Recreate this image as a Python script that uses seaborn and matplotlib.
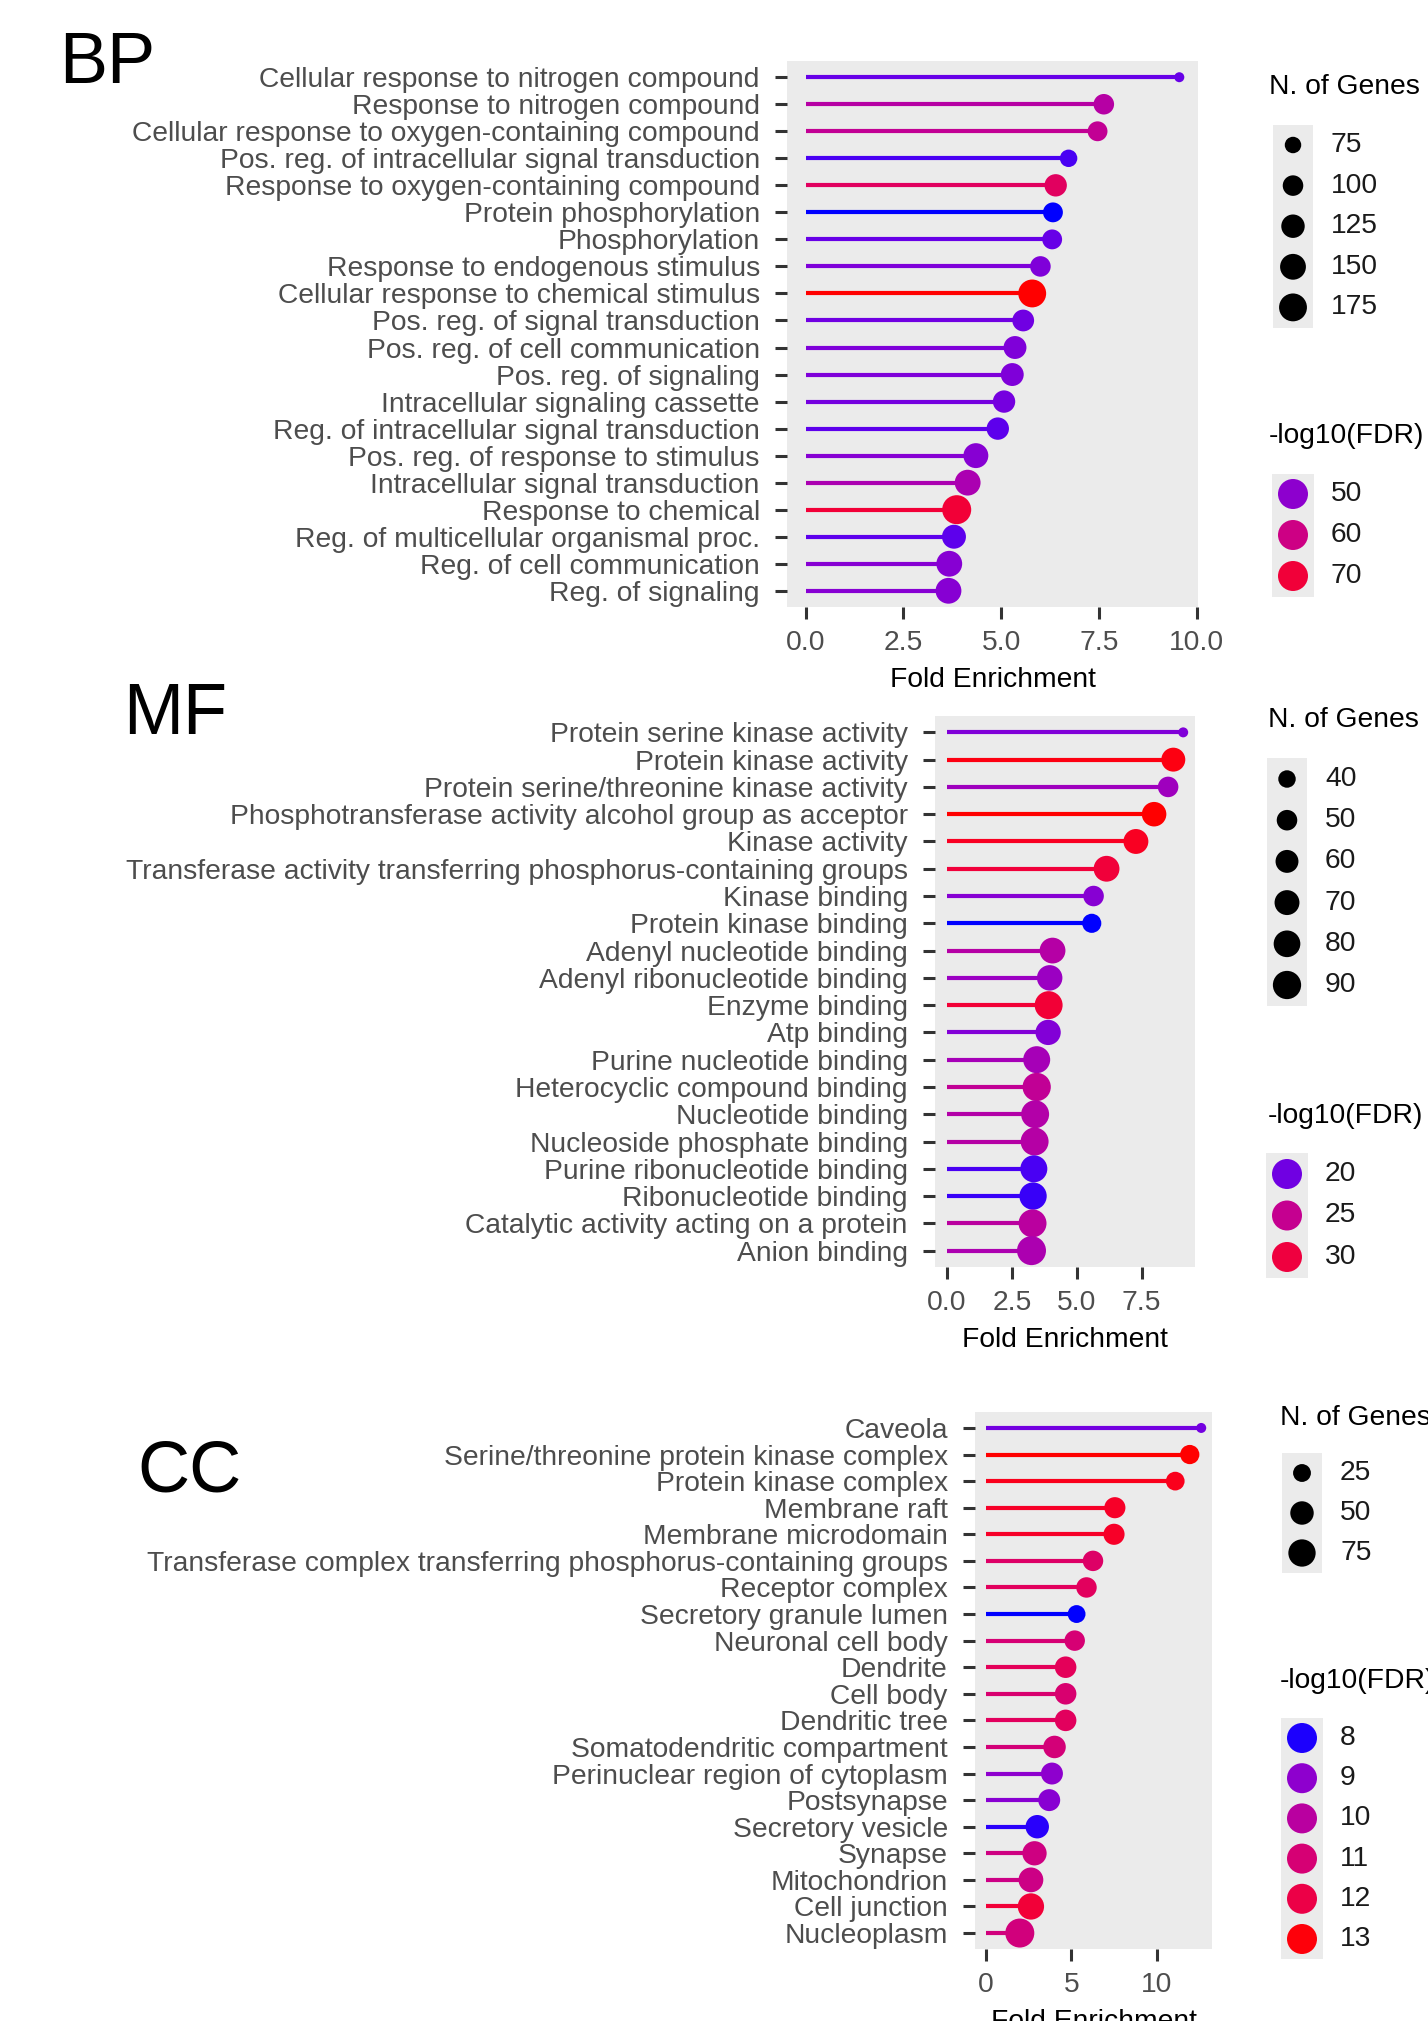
import numpy as np
import pandas as pd
import seaborn as sns
import matplotlib.pyplot as plt
from matplotlib.colors import ListedColormap, Normalize
from matplotlib.patches import Rectangle

W, H = 1428, 2021
FONT = "Liberation Sans"

# ---------------- data ----------------
bp_terms = ["Cellular response to nitrogen compound", "Response to nitrogen compound",
            "Cellular response to oxygen-containing compound",
            "Pos. reg. of intracellular signal transduction",
            "Response to oxygen-containing compound", "Protein phosphorylation",
            "Phosphorylation", "Response to endogenous stimulus",
            "Cellular response to chemical stimulus", "Pos. reg. of signal transduction",
            "Pos. reg. of cell communication", "Pos. reg. of signaling",
            "Intracellular signaling cassette", "Reg. of intracellular signal transduction",
            "Pos. reg. of response to stimulus", "Intracellular signal transduction",
            "Response to chemical", "Reg. of multicellular organismal proc.",
            "Reg. of cell communication", "Reg. of signaling"]
bp_fold = [9.55, 7.62, 7.46, 6.72, 6.39, 6.32, 6.30, 6.00, 5.79, 5.56,
           5.35, 5.28, 5.07, 4.91, 4.35, 4.14, 3.86, 3.79, 3.67, 3.65]
bp_genes = [60, 100, 95, 80, 115, 95, 95, 100, 175, 110,
            120, 120, 115, 115, 140, 150, 190, 130, 150, 150]
bp_fdr = [46.9, 55.6, 57.8, 45.3, 65.0, 43.75, 46.9, 48.75, 75.0, 47.5,
          48.75, 48.75, 47.8, 46.25, 49.4, 54.0, 70.3, 46.25, 49.4, 49.4]
bp_size_breaks = [75, 100, 125, 150, 175]
bp_color_breaks = [50, 60, 70]
bp_xticks = [0, 2.5, 5, 7.5, 10]
bp_xlabels = ["0.0", "2.5", "5.0", "7.5", "10.0"]

mf_terms = ["Protein serine kinase activity", "Protein kinase activity",
            "Protein serine/threonine kinase activity",
            "Phosphotransferase activity alcohol group as acceptor", "Kinase activity",
            "Transferase activity transferring phosphorus-containing groups",
            "Kinase binding", "Protein kinase binding", "Adenyl nucleotide binding",
            "Adenyl ribonucleotide binding", "Enzyme binding", "Atp binding",
            "Purine nucleotide binding", "Heterocyclic compound binding",
            "Nucleotide binding", "Nucleoside phosphate binding",
            "Purine ribonucleotide binding", "Ribonucleotide binding",
            "Catalytic activity acting on a protein", "Anion binding"]
mf_fold = [9.10, 8.72, 8.52, 7.98, 7.28, 6.15, 5.65, 5.58, 4.07, 3.96,
           3.92, 3.90, 3.46, 3.46, 3.40, 3.38, 3.35, 3.32, 3.30, 3.26]
mf_genes = [30, 65, 50, 68, 70, 75, 50, 45, 75, 73,
            88, 72, 82, 90, 88, 88, 82, 84, 88, 95]
mf_fdr = [20.6, 32.2, 22.2, 32.6, 31.5, 30.3, 20.9, 18.3, 23.7, 21.9,
          30.5, 20.7, 22.6, 24.7, 23.5, 23.7, 19.0, 18.7, 24.0, 23.0]
mf_size_breaks = [40, 50, 60, 70, 80, 90]
mf_color_breaks = [20, 25, 30]
mf_xticks = [0, 2.5, 5, 7.5]
mf_xlabels = ["0.0", "2.5", "5.0", "7.5"]

cc_terms = ["Caveola", "Serine/threonine protein kinase complex", "Protein kinase complex",
            "Membrane raft", "Membrane microdomain",
            "Transferase complex transferring phosphorus-containing groups",
            "Receptor complex", "Secretory granule lumen", "Neuronal cell body",
            "Dendrite", "Cell body", "Dendritic tree", "Somatodendritic compartment",
            "Perinuclear region of cytoplasm", "Postsynapse", "Secretory vesicle",
            "Synapse", "Mitochondrion", "Cell junction", "Nucleoplasm"]
cc_fold = [12.6, 11.93, 11.08, 7.55, 7.50, 6.27, 5.89, 5.31, 5.20, 4.67,
           4.67, 4.67, 4.02, 3.87, 3.71, 3.01, 2.85, 2.64, 2.64, 1.99]
cc_genes = [12, 30, 28, 38, 38, 35, 35, 25, 35, 40,
            40, 40, 45, 42, 42, 50, 55, 58, 68, 88]
cc_fdr = [8.6, 13.1, 12.8, 12.6, 12.6, 11.3, 11.5, 7.95, 11.0, 11.6,
          11.1, 11.5, 10.9, 9.0, 8.9, 8.05, 10.7, 10.6, 12.3, 10.8]
cc_size_breaks = [25, 50, 75]
cc_color_breaks = [8, 9, 10, 11, 12, 13]
cc_xticks = [0, 5, 10]
cc_xlabels = ["0", "5", "10"]


# blue -> red gradient interpolated in Lab, like ggplot's default
M_RGB = np.array([[0.4124, 0.3576, 0.1805],
                  [0.2126, 0.7152, 0.0722],
                  [0.0193, 0.1192, 0.9505]])
WHITE = np.array([0.95047, 1.0, 1.08883])


def to_lab(rgb):
    rgb = np.asarray(rgb, float)
    lin = np.where(rgb <= 0.04045, rgb / 12.92, ((rgb + 0.055) / 1.055) ** 2.4)
    xyz = M_RGB @ lin / WHITE
    f = np.where(xyz > 0.008856, np.cbrt(xyz), 7.787 * xyz + 16 / 116)
    return np.array([116 * f[1] - 16, 500 * (f[0] - f[1]), 200 * (f[1] - f[2])])


def from_lab(lab):
    fy = (lab[0] + 16) / 116
    f = np.array([fy + lab[1] / 500, fy, fy - lab[2] / 200])
    xyz = np.where(f ** 3 > 0.008856, f ** 3, (f - 16 / 116) / 7.787) * WHITE
    lin = np.clip(np.linalg.solve(M_RGB, xyz), 0, 1)
    rgb = np.where(lin <= 0.0031308, 12.92 * lin, 1.055 * lin ** (1 / 2.4) - 0.055)
    return np.clip(rgb, 0, 1)


lab_lo, lab_hi = to_lab([0, 0, 1]), to_lab([1, 0, 0])
cmap = ListedColormap([from_lab(lab_lo + t * (lab_hi - lab_lo)) for t in np.linspace(0, 1, 256)])


def dot_area(n, lo, hi):
    # ggplot-like: diameter grows with sqrt of the rescaled value
    d = 10 + 19 * np.sqrt(np.clip((n - lo) / (hi - lo), 0, 1))
    return (d * 0.72) ** 2


fig = plt.figure(figsize=(W / 100, H / 100), dpi=100)
lax = fig.add_axes([0, 0, 1, 1])
lax.set_xlim(0, W)
lax.set_ylim(H, 0)
lax.axis("off")

panels = [
    ("BP", bp_terms, bp_fold, bp_genes, bp_fdr, bp_size_breaks, bp_color_breaks,
     bp_xticks, bp_xlabels, (787, 61, 1198, 607), (59, 83),
     (1269, 87, 145, 40.6, 1293), (1269, 436, 494, 41, 1293)),
    ("MF", mf_terms, mf_fold, mf_genes, mf_fdr, mf_size_breaks, mf_color_breaks,
     mf_xticks, mf_xlabels, (935, 716, 1195, 1267), (123, 734),
     (1268, 720, 779, 41.2, 1287), (1268, 1116, 1174, 41.5, 1287)),
    ("CC", cc_terms, cc_fold, cc_genes, cc_fdr, cc_size_breaks, cc_color_breaks,
     cc_xticks, cc_xlabels, (975, 1412, 1212, 1949), (137, 1491),
     (1280, 1418, 1473, 40, 1302), (1280, 1681, 1738, 40.2, 1302)),
]

for (name, terms, fold, genes, fdr, size_breaks, color_breaks, xticks, xlabels,
     box, title_pos, size_leg, color_leg) in panels:
    x0, y0, x1, y1 = box
    ax = fig.add_axes([x0 / W, 1 - y1 / H, (x1 - x0) / W, (y1 - y0) / H])
    ax.set_facecolor("#EBEBEB")
    for sp in ax.spines.values():
        sp.set_visible(False)

    df = pd.DataFrame({"term": terms, "fold": fold, "genes": genes, "fdr": fdr})
    df["pos"] = np.arange(len(df))
    lo_n, hi_n = min(genes), max(genes)
    lo_c, hi_c = min(fdr), max(fdr)
    norm = Normalize(lo_c, hi_c)

    ax.hlines(df["pos"], 0, df["fold"], colors=cmap(norm(df["fdr"])), lw=3.0, zorder=2)
    sns.scatterplot(data=df, x="fold", y="pos", hue="fdr", size="genes",
                    palette=cmap, hue_norm=(lo_c, hi_c),
                    sizes={g: dot_area(g, lo_n, hi_n) for g in set(genes)},
                    linewidth=0, legend=False, zorder=3, ax=ax)

    top = max(fold)
    ax.set_xlim(-0.05 * top, 1.05 * top)
    ax.set_ylim(len(df) - 0.4, -0.6)
    ax.set_yticks(df["pos"])
    ax.set_yticklabels(terms, fontfamily=FONT)
    ax.set_xticks(xticks)
    ax.set_xticklabels(xlabels, fontfamily=FONT)
    ax.tick_params(axis="y", length=8.6, width=2.2, color="#333333", pad=11,
                   labelsize=20.3, labelcolor="#4D4D4D")
    ax.tick_params(axis="x", length=8.6, width=2.2, color="#333333", pad=8,
                   labelsize=20.3, labelcolor="#4D4D4D")
    ax.set_ylabel("")
    ax.set_xlabel("Fold Enrichment", fontsize=20.3, fontfamily=FONT, color="black", labelpad=8)

    fig.text(title_pos[0] / W, 1 - title_pos[1] / H, name, fontsize=52,
             fontfamily=FONT, va="baseline", ha="left")

    # size legend
    tx, ty, r0, step, dx = size_leg
    lax.text(tx, ty, "N. of Genes", fontsize=20.3, fontfamily=FONT, va="center")
    n = len(size_breaks)
    lax.add_patch(Rectangle((dx - 20, r0 - step / 2), 40, step * n, color="#EBEBEB", lw=0))
    ys = [r0 + i * step for i in range(n)]
    lax.scatter([dx] * n, ys, s=[dot_area(b, lo_n, hi_n) for b in size_breaks],
                color="black", lw=0, zorder=3)
    for yy, b in zip(ys, size_breaks):
        lax.text(dx + 38, yy, str(b), fontsize=20.3, fontfamily=FONT, va="center",
                 color="#1A1A1A")

    # colour legend
    tx, ty, r0, step, dx = color_leg
    lax.text(tx, ty, "-log10(FDR)", fontsize=20.3, fontfamily=FONT, va="center")
    n = len(color_breaks)
    lax.add_patch(Rectangle((dx - 21, r0 - step / 2), 42, step * n, color="#EBEBEB", lw=0))
    ys = [r0 + i * step for i in range(n)]
    lax.scatter([dx] * n, ys, s=(30 * 0.72) ** 2, c=cmap(norm(color_breaks)),
                lw=0, zorder=3)
    for yy, b in zip(ys, color_breaks):
        lax.text(dx + 38, yy, str(b), fontsize=20.3, fontfamily=FONT, va="center",
                 color="#1A1A1A")

fig.savefig("out.png", dpi=100)
